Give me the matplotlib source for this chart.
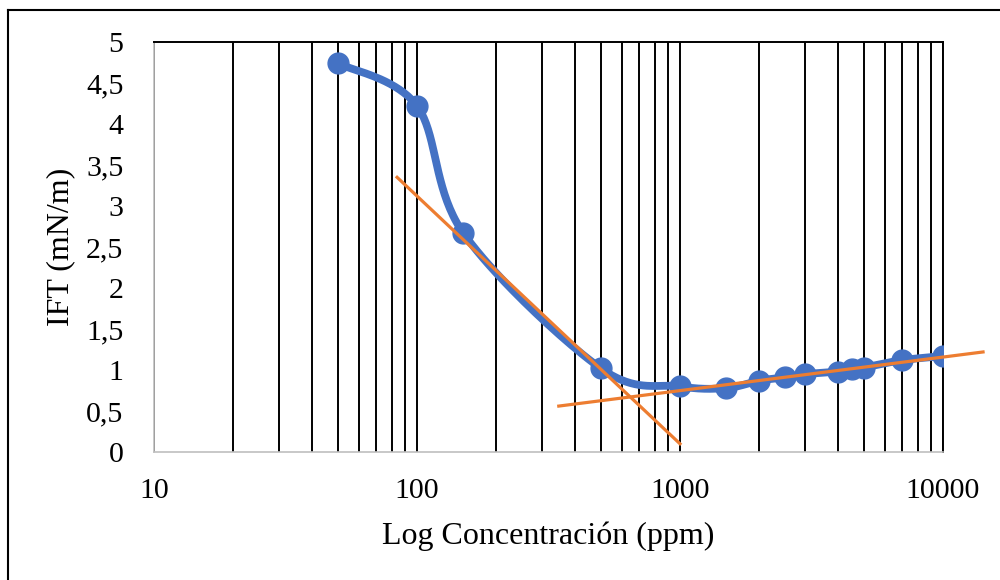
import numpy as np
import matplotlib
matplotlib.use("Agg")
import matplotlib.pyplot as plt
from matplotlib.ticker import LogLocator, FixedLocator, FuncFormatter, NullFormatter
from matplotlib.lines import Line2D

plt.rcParams['font.family'] = ['Liberation Serif', 'DejaVu Serif']

# Data
conc = [50, 100, 150, 500, 1000, 1500, 2000, 2500, 3000, 4000, 4500, 5000, 7000, 10000]
ift = [4.74, 4.22, 2.67, 1.02, 0.80, 0.78, 0.87, 0.91, 0.95, 0.98, 1.01, 1.03, 1.12, 1.17]
trend1_x = [84, 1000]
trend1_y = [3.35, 0.10]
trend2_x = [346, 14200]
trend2_y = [0.56, 1.22]
y_ticks = [0, 0.5, 1, 1.5, 2, 2.5, 3, 3.5, 4, 4.5, 5]
x_ticks = [10, 100, 1000, 10000]

BLUE = '#4472C4'
ORANGE = '#ED7D31'


def smooth(xs, ys, n=40):
    """Excel-like smoothed line (Catmull-Rom Bezier) in log-x space."""
    P = np.column_stack([np.log10(xs), ys])
    out = []
    m = len(P)
    for i in range(m - 1):
        p0 = P[i - 1] if i > 0 else P[i]
        p1 = P[i]
        p2 = P[i + 1]
        p3 = P[i + 2] if i + 2 < m else P[i + 1]
        c1 = p1 + (p2 - p0) / 6.0
        c2 = p2 - (p3 - p1) / 6.0
        t = np.linspace(0, 1, n)[:, None]
        seg = ((1 - t) ** 3) * p1 + 3 * ((1 - t) ** 2) * t * c1 + 3 * (1 - t) * t ** 2 * c2 + t ** 3 * p2
        out.append(seg if i == 0 else seg[1:])
    pts = np.vstack(out)
    return 10 ** pts[:, 0], pts[:, 1]


fig = plt.figure(figsize=(10, 5.8), dpi=100)
ax = fig.add_axes([0.154, 1 - 452 / 580, 0.943 - 0.154, (452 - 42) / 580])
ax.set_xscale('log')
ax.set_xlim(10, 10000)
ax.set_ylim(0, 5)

# vertical gridlines at all log ticks
ax.xaxis.set_major_locator(FixedLocator(x_ticks))
ax.xaxis.set_minor_locator(LogLocator(base=10, subs=np.arange(2, 10)))
ax.xaxis.set_minor_formatter(NullFormatter())
ax.xaxis.set_major_formatter(FuncFormatter(lambda v, p: f"{int(round(v))}"))
ax.grid(True, which='both', axis='x', color='black', linewidth=1.4, zorder=1)
ax.set_axisbelow(True)

ax.set_yticks(y_ticks)
ax.yaxis.set_major_formatter(FuncFormatter(lambda v, p: (f"{v:g}").replace('.', ',')))

ax.tick_params(axis='both', which='both', length=0, labelsize=21.5)
ax.tick_params(axis='x', pad=19)
ax.tick_params(axis='y', pad=22)

for s in ['left', 'bottom']:
    ax.spines[s].set_color('#BFBFBF')
    ax.spines[s].set_linewidth(1.2)
for s in ['top', 'right']:
    ax.spines[s].set_color('black')
    ax.spines[s].set_linewidth(1.4)

sx, sy = smooth(conc, ift)
ax.plot(sx, sy, color=BLUE, linewidth=5.6, zorder=3, solid_capstyle='round')
ax.plot(conc, ift, 'o', color=BLUE, markersize=15, zorder=4)

ax.plot(trend1_x, trend1_y, color=ORANGE, linewidth=2.3, zorder=5, clip_on=False)
ax.plot(trend2_x, trend2_y, color=ORANGE, linewidth=2.3, zorder=5, clip_on=False)

ax.set_xlabel('Log Concentración (ppm)', fontsize=23, labelpad=12)
ax.set_ylabel('IFT (mN/m)', fontsize=23, labelpad=8)

# outer chart border (left and top edges visible)
fig.add_artist(Line2D([8 / 1000, 8 / 1000], [0, 1 - 10 / 580], color='black', linewidth=1.5,
                      transform=fig.transFigure))
fig.add_artist(Line2D([8 / 1000, 1], [1 - 10 / 580, 1 - 10 / 580], color='black', linewidth=1.5,
                      transform=fig.transFigure))

fig.savefig('out.png', dpi=100)
